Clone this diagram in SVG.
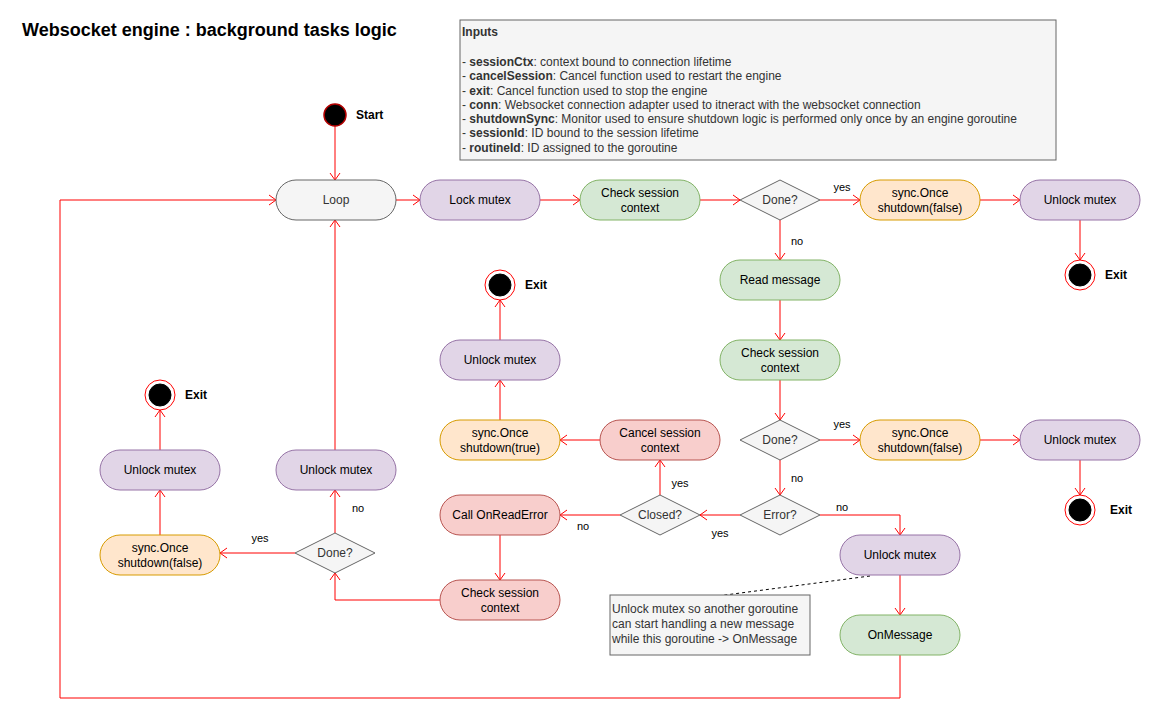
<svg xmlns="http://www.w3.org/2000/svg" width="1155" height="721" viewBox="0 0 1155 721">
<defs>
<marker id="arr" markerUnits="userSpaceOnUse" markerWidth="12" markerHeight="12" viewBox="-8 -6 10 12" refX="0" refY="0" orient="auto">
<path d="M-7,-5 L0,0 L-7,5" fill="none" stroke="#ff0000" stroke-width="1"/>
</marker>
</defs>
<style>
text{font-family:"Liberation Sans",Arial,sans-serif;font-size:12px;fill:#000}
.c{text-anchor:middle;dominant-baseline:central}
.b{font-weight:bold}
.grey rect{fill:#f5f5f5;stroke:#666}
.grey text{fill:#333}
.pur rect{fill:#e1d5e7;stroke:#9673a6}
.grn rect{fill:#d5e8d4;stroke:#82b366}
.org rect{fill:#ffe6cc;stroke:#d79b00}
.red rect{fill:#f8cecc;stroke:#b85450}
.dia polygon{fill:#f5f5f5;stroke:#666}
.dia text{fill:#333}
.fin .o{fill:#fff;stroke:#ff0000}
.fin .i{fill:#000;stroke:#000}
.conn path{fill:none;stroke:#ff0000;stroke-width:1;marker-end:url(#arr)}
.lbl{font-size:11px;fill:#000}
</style>
<rect width="1155" height="721" fill="#fff"/>
<text x="22" y="36" class="b" style="font-size:18px">Websocket engine : background tasks logic</text>

<g id="inputs">
<rect x="460" y="20" width="596" height="140" fill="#f5f5f5" stroke="#666"/>
<text x="462" y="36" class="b" style="fill:#333">Inputs</text>
<text x="462" y="66" style="fill:#333">- <tspan class="b">sessionCtx</tspan>: context bound to connection lifetime</text>
<text x="462" y="80" style="fill:#333">- <tspan class="b">cancelSession</tspan>: Cancel function used to restart the engine</text>
<text x="462" y="95" style="fill:#333">- <tspan class="b">exit</tspan>: Cancel function used to stop the engine</text>
<text x="462" y="109" style="fill:#333">- <tspan class="b">conn</tspan>: Websocket connection adapter used to itneract with the websocket connection</text>
<text x="462" y="123" style="fill:#333">- <tspan class="b">shutdownSync</tspan>: Monitor used to ensure shutdown logic is performed only once by an engine goroutine</text>
<text x="462" y="137" style="fill:#333">- <tspan class="b">sessionId</tspan>: ID bound to the session lifetime</text>
<text x="462" y="152" style="fill:#333">- <tspan class="b">routineId</tspan>: ID assigned to the goroutine</text>
</g>

<g id="connectors" class="conn">
<path d="M335,126 L335,180"/>
<path d="M396,200 L420,200"/>
<path d="M540,200 L580,200"/>
<path d="M700,200 L740,200"/>
<path d="M820,200 L860,200"/>
<path d="M980,200 L1020,200"/>
<path d="M1080,220 L1080,260"/>
<path d="M780,220 L780,260"/>
<path d="M780,300 L780,340"/>
<path d="M780,380 L780,420"/>
<path d="M820,440 L860,440"/>
<path d="M980,440 L1020,440"/>
<path d="M1080,460 L1080,495"/>
<path d="M780,460 L780,495"/>
<path d="M740,515 L700,515"/>
<path d="M820,515 L900,515 L900,535"/>
<path d="M660,495 L660,460"/>
<path d="M620,515 L560,515"/>
<path d="M600,440 L560,440"/>
<path d="M500,420 L500,380"/>
<path d="M500,340 L500,300"/>
<path d="M500,535 L500,580"/>
<path d="M440,600 L335,600 L335,573"/>
<path d="M335,533 L335,490"/>
<path d="M335,450 L335,220"/>
<path d="M295,553 L220,553"/>
<path d="M160,535 L160,490"/>
<path d="M160,450 L160,410"/>
<path d="M900,575 L900,615"/>
<path d="M900,655 L900,698 L60,698 L60,200 L276,200"/>
<path d="M870,576 L710,597" style="stroke:#000;stroke-dasharray:3,3;marker-end:none"/>
<text x="842" y="187" class="c lbl">yes</text>
<text x="797" y="241" class="c lbl">no</text>
<text x="842" y="424" class="c lbl">yes</text>
<text x="797" y="478" class="c lbl">no</text>
<text x="842" y="507" class="c lbl">no</text>
<text x="720" y="533" class="c lbl">yes</text>
<text x="680" y="483" class="c lbl">yes</text>
<text x="583" y="526" class="c lbl">no</text>
<text x="358" y="508" class="c lbl">no</text>
<text x="260" y="538" class="c lbl">yes</text>
</g>

<g id="start">
<circle cx="335" cy="115" r="11" fill="#000" stroke="#b20000" stroke-width="1.5"/>
<text x="356" y="119" class="b">Start</text>
</g>

<g id="loop" class="grey"><rect x="276" y="180" width="120" height="40" rx="20"/><text x="336" y="200" class="c">Loop</text></g>
<g id="lock" class="pur"><rect x="420" y="180" width="120" height="40" rx="20"/><text x="480" y="200" class="c">Lock mutex</text></g>
<g id="check1" class="grn"><rect x="580" y="180" width="120" height="40" rx="20"/><text x="640" y="193" class="c">Check session</text><text x="640" y="208" class="c">context</text></g>
<g id="done1" class="dia"><polygon points="780,180 820,200 780,220 740,200"/><text x="780" y="200" class="c">Done?</text></g>
<g id="sync1" class="org"><rect x="860" y="180" width="120" height="40" rx="20"/><text x="920" y="193" class="c">sync.Once</text><text x="920" y="208" class="c">shutdown(false)</text></g>
<g id="unlock1" class="pur"><rect x="1020" y="180" width="120" height="40" rx="20"/><text x="1080" y="200" class="c">Unlock mutex</text></g>
<g id="exit1" class="fin"><circle class="o" cx="1080" cy="275" r="15"/><circle class="i" cx="1080" cy="275" r="11"/><text x="1105" y="279" class="b">Exit</text></g>

<g id="read" class="grn"><rect x="720" y="260" width="120" height="40" rx="20"/><text x="780" y="280" class="c">Read message</text></g>
<g id="check2" class="grn"><rect x="720" y="340" width="120" height="40" rx="20"/><text x="780" y="353" class="c">Check session</text><text x="780" y="368" class="c">context</text></g>
<g id="done2" class="dia"><polygon points="780,420 820,440 780,460 740,440"/><text x="780" y="440" class="c">Done?</text></g>
<g id="sync2" class="org"><rect x="860" y="420" width="120" height="40" rx="20"/><text x="920" y="433" class="c">sync.Once</text><text x="920" y="448" class="c">shutdown(false)</text></g>
<g id="unlock2" class="pur"><rect x="1020" y="420" width="120" height="40" rx="20"/><text x="1080" y="440" class="c">Unlock mutex</text></g>
<g id="exit2" class="fin"><circle class="o" cx="1080" cy="510" r="15"/><circle class="i" cx="1080" cy="510" r="11"/><text x="1110" y="514" class="b">Exit</text></g>

<g id="error" class="dia"><polygon points="780,495 820,515 780,535 740,515"/><text x="780" y="515" class="c">Error?</text></g>
<g id="closed" class="dia"><polygon points="660,495 700,515 660,535 620,515"/><text x="660" y="515" class="c">Closed?</text></g>
<g id="cancel" class="red"><rect x="600" y="420" width="120" height="40" rx="20"/><text x="660" y="433" class="c">Cancel session</text><text x="660" y="448" class="c">context</text></g>
<g id="sync3" class="org"><rect x="440" y="420" width="120" height="40" rx="20"/><text x="500" y="433" class="c">sync.Once</text><text x="500" y="448" class="c">shutdown(true)</text></g>
<g id="unlock3" class="pur"><rect x="440" y="340" width="120" height="40" rx="20"/><text x="500" y="360" class="c">Unlock mutex</text></g>
<g id="exit3" class="fin"><circle class="o" cx="500" cy="285" r="15"/><circle class="i" cx="500" cy="285" r="11"/><text x="525" y="289" class="b">Exit</text></g>

<g id="readerr" class="red"><rect x="440" y="495" width="120" height="40" rx="20"/><text x="500" y="515" class="c">Call OnReadError</text></g>
<g id="check3" class="red"><rect x="440" y="580" width="120" height="40" rx="20"/><text x="500" y="593" class="c">Check session</text><text x="500" y="608" class="c">context</text></g>
<g id="done3" class="dia"><polygon points="335,533 375,553 335,573 295,553"/><text x="335" y="553" class="c">Done?</text></g>
<g id="unlock4" class="pur"><rect x="276" y="450" width="120" height="40" rx="20"/><text x="336" y="470" class="c">Unlock mutex</text></g>
<g id="sync4" class="org"><rect x="100" y="535" width="120" height="40" rx="20"/><text x="160" y="548" class="c">sync.Once</text><text x="160" y="563" class="c">shutdown(false)</text></g>
<g id="unlock5" class="pur"><rect x="100" y="450" width="120" height="40" rx="20"/><text x="160" y="470" class="c">Unlock mutex</text></g>
<g id="exit4" class="fin"><circle class="o" cx="160" cy="395" r="15"/><circle class="i" cx="160" cy="395" r="11"/><text x="185" y="399" class="b">Exit</text></g>

<g id="unlock6" class="pur"><rect x="840" y="535" width="120" height="40" rx="20"/><text x="900" y="555" class="c">Unlock mutex</text></g>
<g id="onmessage" class="grn"><rect x="840" y="615" width="120" height="40" rx="20"/><text x="900" y="635" class="c">OnMessage</text></g>

<g id="note">
<rect x="610" y="595" width="200" height="60" fill="#f5f5f5" stroke="#666"/>
<text x="612" y="613" style="fill:#333">Unlock mutex so another goroutine</text>
<text x="612" y="628" style="fill:#333">can start handling a new message</text>
<text x="612" y="643" style="fill:#333">while this goroutine -&gt; OnMessage</text>
</g>
</svg>
